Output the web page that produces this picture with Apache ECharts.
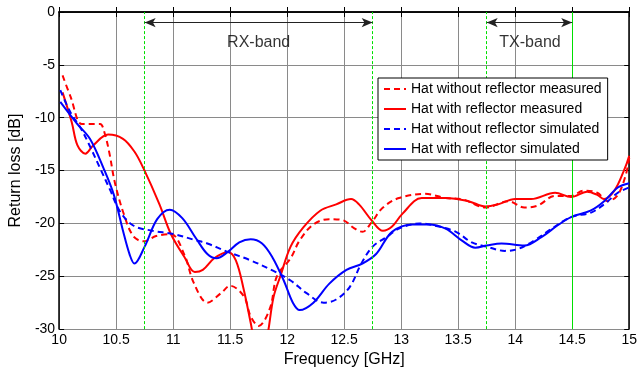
<!DOCTYPE html>
<html>
<head>
<meta charset="utf-8">
<script src="https://cdn.jsdelivr.net/npm/echarts@6/dist/echarts.min.js"></script>
<style>
  html, body { margin: 0; padding: 0; background: #fff; }
  #chart { width: 640px; height: 373px; }
</style>
</head>
<body>
<div id="chart"></div>
<script>
// frequency [GHz], return loss [dB]
var noRefMeasured = [
  [10.03, -6.0], [10.1, -8.0], [10.2, -10.6], [10.3, -10.6], [10.36, -10.6], [10.4, -11.5],
  [10.44, -13.3], [10.49, -16.2], [10.57, -19.2], [10.65, -21.2], [10.74, -21.7], [10.85, -21.2],
  [10.98, -21.0], [11.1, -23.0], [11.18, -25.6], [11.3, -27.5], [11.42, -26.6], [11.5, -25.9],
  [11.62, -26.9], [11.68, -28.8], [11.75, -29.7], [11.85, -28.0], [11.91, -25.0], [12.03, -23.3],
  [12.11, -21.6], [12.23, -20.1], [12.37, -19.6], [12.49, -19.7], [12.58, -20.4], [12.66, -20.8],
  [12.74, -19.9], [12.84, -18.5], [12.98, -17.6], [13.21, -17.2], [13.39, -17.6], [13.53, -17.7],
  [13.74, -18.5], [13.94, -17.9], [14.08, -18.5], [14.2, -18.3], [14.35, -17.4], [14.49, -17.4],
  [14.6, -16.9], [14.72, -17.1], [14.81, -17.9], [14.9, -17.3], [14.97, -15.4], [15.0, -13.8]
];
var refMeasured = [
  [10.03, -7.6], [10.11, -10.4], [10.16, -12.6], [10.23, -13.4], [10.3, -12.6], [10.43, -11.6],
  [10.56, -12.0], [10.66, -13.2], [10.74, -14.8], [10.88, -18.2], [10.98, -21.0], [11.1, -23.2],
  [11.19, -24.6], [11.26, -24.4], [11.36, -23.3], [11.48, -22.7], [11.55, -23.5], [11.62, -26.3],
  [11.68, -29.4], [11.72, -31.5], [11.77, -32.5], [11.82, -31.0], [11.88, -27.0], [11.94, -25.0],
  [12.03, -22.2], [12.14, -20.4], [12.29, -18.8], [12.43, -18.2], [12.56, -17.7], [12.63, -18.2],
  [12.74, -19.7], [12.84, -20.7], [12.92, -20.3], [13.01, -19.1], [13.18, -17.6], [13.39, -17.6],
  [13.59, -17.9], [13.74, -18.4], [13.85, -18.2], [14.0, -17.7], [14.14, -17.7], [14.35, -17.1],
  [14.49, -17.5], [14.63, -17.0], [14.72, -17.3], [14.78, -17.7], [14.87, -16.9], [14.95, -15.1],
  [15.0, -13.6]
];
var noRefSimulated = [
  [10.01, -7.4], [10.1, -9.5], [10.19, -11.0], [10.27, -12.7], [10.36, -14.8], [10.45, -16.9],
  [10.53, -18.8], [10.65, -20.2], [10.82, -20.7], [11.0, -21.0], [11.2, -21.6], [11.3, -21.9],
  [11.48, -22.7], [11.68, -23.5], [11.88, -24.5], [12.03, -25.4], [12.17, -26.6], [12.32, -27.5],
  [12.43, -27.2], [12.55, -26.0], [12.65, -23.8], [12.75, -22.2], [12.87, -21.3], [12.98, -20.5],
  [13.16, -20.0], [13.33, -20.3], [13.48, -20.8], [13.62, -21.8], [13.75, -22.2], [13.91, -22.6],
  [14.03, -22.4], [14.17, -21.6], [14.32, -20.5], [14.49, -19.4], [14.66, -19.0], [14.78, -18.2],
  [14.9, -17.1], [15.0, -16.6]
];
var refSimulated = [
  [10.01, -8.5], [10.16, -10.6], [10.27, -12.0], [10.39, -14.8], [10.48, -17.3], [10.56, -20.7],
  [10.62, -23.0], [10.66, -23.8], [10.75, -22.2], [10.86, -19.6], [10.97, -18.7], [11.08, -19.5],
  [11.2, -21.4], [11.3, -22.9], [11.38, -23.3], [11.48, -22.7], [11.58, -21.8], [11.68, -21.5],
  [11.78, -21.9], [11.87, -23.2], [11.97, -25.4], [12.05, -27.5], [12.11, -28.2], [12.23, -27.5],
  [12.37, -25.7], [12.52, -24.4], [12.66, -23.8], [12.78, -22.9], [12.92, -20.8], [13.1, -20.1],
  [13.24, -20.1], [13.39, -20.5], [13.53, -21.6], [13.65, -22.3], [13.75, -22.1], [13.88, -21.9],
  [14.08, -22.1], [14.23, -21.3], [14.37, -20.2], [14.49, -19.4], [14.66, -18.8], [14.78, -17.9],
  [14.9, -16.6], [15.0, -16.2]
];

var seriesNames = [
  'Hat without reflector measured',
  'Hat with reflector measured',
  'Hat without reflector simulated',
  'Hat with reflector simulated'
];
var bandEdges = [10.75, 12.75, 13.75, 14.5];
var bandArrows = [[10.75, 12.75, -1.0], [13.75, 14.5, -1.0]];
var bandLabels = [[11.75, -2.9, 'RX-band'], [14.13, -2.9, 'TX-band']];

var font = 'Liberation Sans, Arial, sans-serif';

function curve(name, data, color, dashed) {
  return {
    name: name,
    type: 'line',
    data: data,
    smooth: 0.35,
    symbol: 'none',
    clip: true,
    lineStyle: { color: color, width: 2, type: dashed ? [6, 4] : 'solid' },
    itemStyle: { color: color },
    z: 3
  };
}

var chart = echarts.init(document.getElementById('chart'), null, { renderer: 'canvas' });

var option = {
  animation: false,
  textStyle: { fontFamily: font },
  grid: { left: 57, right: 8, top: 12, bottom: 40, show: false },
  legend: {
    data: seriesNames,
    orient: 'vertical',
    left: 378,
    top: 78,
    itemWidth: 22,
    itemHeight: 14,
    itemGap: 6,
    padding: [4, 6, 4, 5],
    backgroundColor: '#fff',
    borderColor: '#000',
    borderWidth: 1,
    itemStyle: { opacity: 0, borderWidth: 0 },
    textStyle: { fontSize: 14, color: '#000', fontFamily: font },
    z: 10
  },
  xAxis: [{
    type: 'value',
    min: 10, max: 15, interval: 0.5,
    name: 'Frequency [GHz]',
    nameLocation: 'middle',
    nameGap: 22,
    nameTextStyle: { fontSize: 16, color: '#000' },
    axisLine: { lineStyle: { color: '#000', width: 1.5 } },
    axisTick: { inside: true, length: 5, lineStyle: { color: '#000' } },
    axisLabel: { fontSize: 14, color: '#000', margin: 4 },
    splitLine: { show: true, lineStyle: { color: '#8a8a8a', width: 1 } }
  }, {
    type: 'value', position: 'top',
    min: 10, max: 15, interval: 0.5,
    axisLine: { show: true, lineStyle: { color: '#000', width: 1.5 } },
    axisTick: { inside: true, length: 5, lineStyle: { color: '#000' } },
    axisLabel: { show: false },
    splitLine: { show: false }
  }],
  yAxis: [{
    type: 'value',
    min: -30, max: 0, interval: 5,
    name: 'Return loss [dB]',
    nameLocation: 'middle',
    nameGap: 29,
    nameTextStyle: { fontSize: 16, color: '#000' },
    axisLine: { show: true, lineStyle: { color: '#000', width: 1.5 } },
    axisTick: { show: true, inside: true, length: 5, lineStyle: { color: '#000' } },
    axisLabel: { fontSize: 14, color: '#000', margin: 4 },
    splitLine: { show: true, lineStyle: { color: '#8a8a8a', width: 1 } }
  }, {
    type: 'value', position: 'right',
    min: -30, max: 0, interval: 5,
    axisLine: { show: true, lineStyle: { color: '#000', width: 1.5 } },
    axisTick: { show: true, inside: true, length: 5, lineStyle: { color: '#000' } },
    axisLabel: { show: false },
    splitLine: { show: false }
  }],
  series: [
    curve(seriesNames[0], noRefMeasured, '#ff0000', true),
    curve(seriesNames[1], refMeasured, '#ff0000', false),
    curve(seriesNames[2], noRefSimulated, '#0000ff', true),
    curve(seriesNames[3], refSimulated, '#0000ff', false),
    {
      name: 'bands',
      type: 'line',
      data: [],
      silent: true,
      z: 2,
      markLine: {
        silent: true,
        symbol: 'none',
        animation: false,
        label: { show: false },
        lineStyle: { color: '#00e000', width: 1, type: [3, 2] },
        data: bandEdges.map(function (x, i) {
          var d = { xAxis: x };
          if (i === bandEdges.length - 1) d.lineStyle = { type: 'solid', color: '#00e000', width: 1 };
          return d;
        })
      }
    },
    {
      name: 'arrows',
      type: 'line',
      data: [],
      silent: true,
      z: 4,
      markLine: {
        silent: true,
        animation: false,
        symbol: ['arrow', 'arrow'],
        symbolSize: [7, 11],
        label: { show: false },
        lineStyle: { color: '#222', width: 1, type: 'solid' },
        data: bandArrows.map(function (a) {
          return [{ coord: [a[0], a[2]] }, { coord: [a[1], a[2]] }];
        })
      }
    },
    {
      name: 'bandText',
      type: 'scatter',
      data: bandLabels,
      symbolSize: 0,
      silent: true,
      label: {
        show: true,
        position: 'inside',
        formatter: function (p) { return p.value[2]; },
        fontSize: 16,
        color: '#000',
        fontFamily: font
      }
    }
  ]
};

chart.setOption(option);
</script>
</body>
</html>
